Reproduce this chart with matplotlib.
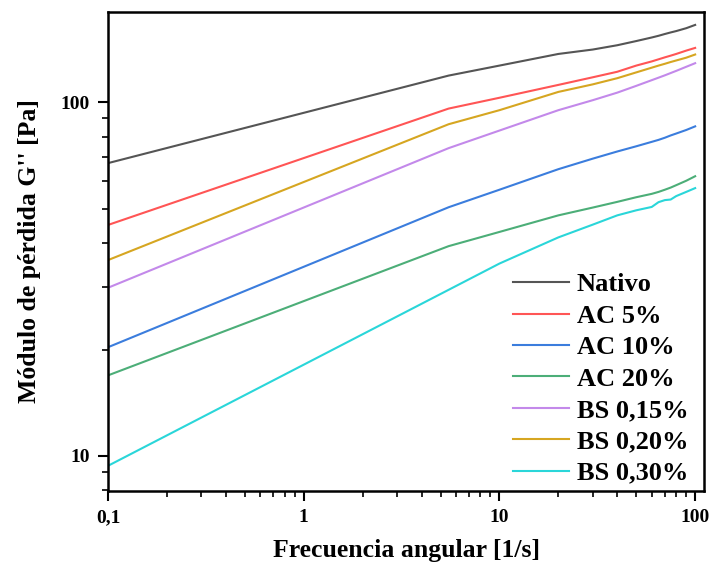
import numpy as np
import matplotlib
matplotlib.use("Agg")
import matplotlib.pyplot as plt
from matplotlib.ticker import FixedLocator, LogLocator, NullFormatter, FuncFormatter

plt.rcParams['font.family'] = ['Liberation Serif', 'DejaVu Serif']
plt.rcParams['font.weight'] = 'bold'

# angular frequency [1/s]
freq = [0.1, 5.5, 10, 20, 30, 40, 50, 60, 65, 70, 75, 80, 90, 100]

# loss modulus G'' [Pa]
nativo = [67.3, 119, 127, 137, 141, 145, 149, 152.5, 154.2, 156, 157.6, 159, 162, 165.5]
ac5 = [45, 96, 103, 112, 117.7, 122, 127, 130.5, 132.3, 134, 135.5, 137, 140, 142.5]
ac10 = [20.3, 50.5, 56.6, 64.7, 69.3, 72.6, 75.1, 77.3, 78.3, 79.4, 80.6, 81.6, 83.5, 85.5]
ac20 = [16.9, 39.2, 43, 47.9, 50.4, 52.3, 53.9, 55.1, 55.8, 56.6, 57.4, 58.3, 60, 61.8]
bs015 = [29.9, 74.2, 83.2, 95, 101.4, 106.5, 111.3, 115.5, 117.4, 119.2, 121, 122.7, 126, 129]
bs020 = [35.8, 86.7, 95, 107, 112.4, 117, 121.5, 125.3, 127, 128.5, 130, 131.3, 133.7, 136.5]
bs030 = [9.38, 29.5, 35, 41.5, 45.1, 47.9, 49.5, 50.6, 52.2, 52.9, 53.1, 54.3, 55.8, 57.2]

labels = ['Nativo', 'AC 5%', 'AC 10%', 'AC 20%', 'BS 0,15%', 'BS 0,20%', 'BS 0,30%']
series = [nativo, ac5, ac10, ac20, bs015, bs020, bs030]
colors = ['#555555', '#ff5555', '#3b7ddd', '#4cae78', '#c389ea', '#d6a621', '#2ad6d9']

fig = plt.figure(figsize=(7.12, 5.67), dpi=100)
ax = fig.add_axes([0.1517, 0.134, 0.8371, 0.8448])

for vals, lab, c in zip(series, labels, colors):
    ax.plot(freq, vals, color=c, lw=1.5, label=lab)

ax.set_xscale('log')
ax.set_yscale('log')
ax.set_xlim(0.1, 111)
ax.set_ylim(7.96, 180)

comma = FuncFormatter(lambda v, p: ('%g' % v).replace('.', ','))
ax.xaxis.set_major_locator(FixedLocator([0.1, 1, 10, 100]))
ax.xaxis.set_major_formatter(comma)
ax.xaxis.set_minor_locator(LogLocator(base=10, subs=np.arange(2, 10)))
ax.xaxis.set_minor_formatter(NullFormatter())
ax.yaxis.set_major_locator(FixedLocator([10, 100]))
ax.yaxis.set_major_formatter(comma)
ax.yaxis.set_minor_locator(LogLocator(base=10, subs=np.arange(2, 10)))
ax.yaxis.set_minor_formatter(NullFormatter())

ax.tick_params(which='major', direction='out', length=7, width=1.5, labelsize=14, pad=6)
ax.tick_params(which='minor', direction='out', length=4, width=1.2)
for s in ax.spines.values():
    s.set_linewidth(1.8)

ax.set_xlabel('Frecuencia angular [1/s]', fontsize=18.5, fontweight='bold', labelpad=9)
ax.set_ylabel("Módulo de pérdida G'' [Pa]", fontsize=18.5, fontweight='bold', labelpad=14)

ax.legend(loc='lower right', bbox_to_anchor=(1.0, -0.02), frameon=False,
          prop={'size': 19, 'weight': 'bold'}, handlelength=2.12,
          handletextpad=0.3, labelspacing=0.3, borderaxespad=0.2)

fig.savefig('out.png', dpi=100)
